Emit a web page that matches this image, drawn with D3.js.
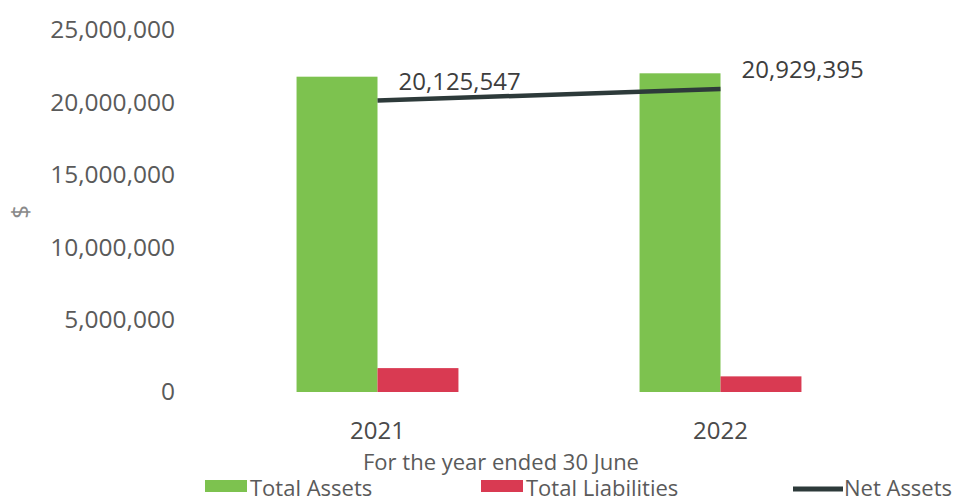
<!DOCTYPE html>
<html>
<head>
<meta charset="utf-8">
<script src="https://cdn.jsdelivr.net/npm/d3@7"></script>
<style>
  html, body { margin: 0; padding: 0; background: #fff; }
  svg { display: block; font-family: "Open Sans", "Noto Sans", sans-serif; }
</style>
</head>
<body>
<svg id="chart" width="968" height="503"></svg>
<script>
// Financial position, for the year ended 30 June
const years = ["2021", "2022"];
const totalAssets = [21775547, 22009395];
const totalLiabilities = [1650000, 1080000];
const netAssets = [20125547, 20929395];
const yTicks = [0, 5000000, 10000000, 15000000, 20000000, 25000000];

const colors = { assets: "#7DC24F", liabilities: "#D93A52", net: "#2D3A3A" };

const svg = d3.select("#chart");
const plot = { left: 206, right: 892, top: 30, bottom: 392 };

const x = d3.scaleBand()
  .domain(years)
  .range([plot.left, plot.right])
  .paddingInner(0.528)
  .paddingOuter(0.264);

const y = d3.scaleLinear()
  .domain([0, 25000000])
  .range([plot.bottom, plot.top]);

const fmt = d3.format(",");

// Value axis (labels only, no line or ticks)
const yAxis = svg.append("g")
  .attr("transform", `translate(175,0)`)
  .call(d3.axisLeft(y).tickValues(yTicks).tickFormat(fmt).tickSize(0).tickPadding(0));
yAxis.select(".domain").remove();
yAxis.selectAll("text")
  .attr("fill", "#5a5a5a")
  .style("font-size", "24.5px")
  .style("font-family", "'Open Sans', sans-serif");

// Axis title
svg.append("text")
  .attr("transform", "translate(29,212) rotate(-90)")
  .attr("text-anchor", "middle")
  .attr("fill", "#8a8a8a")
  .style("font-size", "24px")
  .text("$");

// Grouped bars: assets to the left of each year centre, liabilities to the right
const half = x.bandwidth() / 2;
const groups = svg.append("g").selectAll("g")
  .data(years.map((yr, i) => ({ yr, a: totalAssets[i], l: totalLiabilities[i] })))
  .join("g")
  .attr("transform", d => `translate(${x(d.yr)},0)`);

groups.append("rect")
  .attr("x", 0)
  .attr("width", half)
  .attr("y", d => y(d.a))
  .attr("height", d => y(0) - y(d.a))
  .attr("fill", colors.assets);

groups.append("rect")
  .attr("x", half)
  .attr("width", half)
  .attr("y", d => y(d.l))
  .attr("height", d => y(0) - y(d.l))
  .attr("fill", colors.liabilities);

// Net assets line through the year centres
const netPts = years.map((yr, i) => ({ x: x(yr) + half, y: y(netAssets[i]), v: netAssets[i] }));
svg.append("path")
  .datum(netPts)
  .attr("d", d3.line().x(d => d.x).y(d => d.y))
  .attr("fill", "none")
  .attr("stroke", colors.net)
  .attr("stroke-width", 4.5)
  .attr("stroke-linecap", "butt");

svg.append("g").selectAll("text")
  .data(netPts)
  .join("text")
  .attr("x", d => d.x + 21)
  .attr("y", d => d.y - 11)
  .attr("fill", "#3d3d3d")
  .style("font-size", "24px")
  .text(d => fmt(d.v));

// Category axis labels
const xAxis = svg.append("g")
  .attr("transform", `translate(0,${plot.bottom})`)
  .call(d3.axisBottom(x).tickSize(0).tickPadding(0));
xAxis.select(".domain").remove();
xAxis.selectAll("text")
  .attr("dy", null)
  .attr("y", 47)
  .attr("fill", "#4a4a4a")
  .style("font-size", "24px")
  .style("font-family", "'Open Sans', sans-serif");

svg.append("text")
  .attr("x", 501)
  .attr("y", 470)
  .attr("text-anchor", "middle")
  .attr("fill", "#5a5a5a")
  .style("font-size", "22px")
  .text("For the year ended 30 June");

// Legend
const legendItems = [
  { label: "Total Assets", color: colors.assets, kind: "rect", x: 205 },
  { label: "Total Liabilities", color: colors.liabilities, kind: "rect", x: 481 },
  { label: "Net Assets", color: colors.net, kind: "line", x: 793 }
];
const legend = svg.append("g").selectAll("g")
  .data(legendItems)
  .join("g")
  .attr("transform", d => `translate(${d.x},0)`);

legend.filter(d => d.kind === "rect").append("rect")
  .attr("x", 0).attr("y", 480)
  .attr("width", 42).attr("height", 12)
  .attr("fill", d => d.color);

legend.filter(d => d.kind === "line").append("line")
  .attr("x1", 0).attr("x2", 50)
  .attr("y1", 489).attr("y2", 489)
  .attr("stroke", d => d.color)
  .attr("stroke-width", 5);

legend.append("text")
  .attr("x", d => d.kind === "line" ? 51 : 45)
  .attr("y", 496)
  .attr("fill", "#5a5a5a")
  .style("font-size", "22px")
  .text(d => d.label);
</script>
</body>
</html>
